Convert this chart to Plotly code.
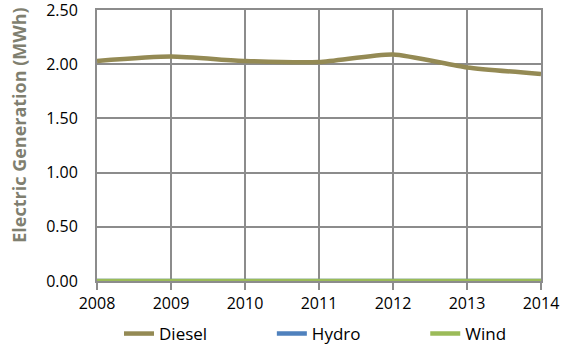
import plotly.graph_objects as go

years = [2008, 2009, 2010, 2011, 2012, 2013, 2014]
diesel = [2.03, 2.07, 2.03, 2.02, 2.09, 1.97, 1.91]
hydro = [0, 0, 0, 0, 0, 0, 0]
wind = [0, 0, 0, 0, 0, 0, 0]
y_ticks = [0, 0.5, 1.0, 1.5, 2.0, 2.5]

fig = go.Figure()
fig.add_trace(go.Scatter(x=years, y=diesel, name="Diesel", mode="lines", legend="legend",
                         line=dict(color="#948a54", width=4.5, shape="spline", smoothing=0.6)))
fig.add_trace(go.Scatter(x=years, y=hydro, name="Hydro", mode="lines", legend="legend2",
                         line=dict(color="#4f81bd", width=4.5)))
fig.add_trace(go.Scatter(x=years, y=wind, name="Wind", mode="lines", legend="legend3",
                         line=dict(color="#9bbb59", width=4.5)))

def leg(x):
    return dict(orientation="h", xref="container", yref="container",
                x=x, xanchor="left", y=0.0, yanchor="bottom",
                bgcolor="rgba(0,0,0,0)", font=dict(size=17), itemwidth=30)

fig.update_layout(
    width=564, height=352,
    margin=dict(l=97, r=23, t=10, b=71, autoexpand=False),
    paper_bgcolor="white", plot_bgcolor="white",
    font=dict(family="Open Sans, Liberation Sans, sans-serif", size=16, color="#000000"),
    showlegend=True,
    legend=leg(0.211), legend2=leg(0.482), legend3=leg(0.754),
    xaxis=dict(range=[2008, 2014], tickvals=years, ticktext=[str(y) for y in years],
               showgrid=True, gridcolor="#8c8c8c", gridwidth=2,
               ticks="outside", ticklen=7, tickwidth=2, tickcolor="#8c8c8c",
               showline=True, linecolor="#8c8c8c", linewidth=2, mirror=True,
               zeroline=False, fixedrange=True, ticklabeloverflow="allow"),
    yaxis=dict(range=[0, 2.5], tickvals=y_ticks, tickformat=".2f",
               showgrid=True, gridcolor="#8c8c8c", gridwidth=2,
               showline=True, linecolor="#8c8c8c", linewidth=2, mirror=True,
               ticks="", ticklabelstandoff=14, zeroline=False, fixedrange=True,
               ticklabeloverflow="allow"),
    annotations=[dict(text="<b>Electric Generation (MWh)</b>", textangle=-90,
                      xref="paper", yref="paper", x=-0.175, y=0.574,
                      xanchor="center", yanchor="middle", showarrow=False,
                      font=dict(size=18, color="#7f7f70"))],
)

fig.write_html("out.html", config={"displayModeBar": False})
with open("out.html", "r", encoding="utf-8") as f:
    html = f.read()
html = html.replace("<body>", '<body style="margin:0;padding:0;overflow:hidden">', 1)
with open("out.html", "w", encoding="utf-8") as f:
    f.write(html)
